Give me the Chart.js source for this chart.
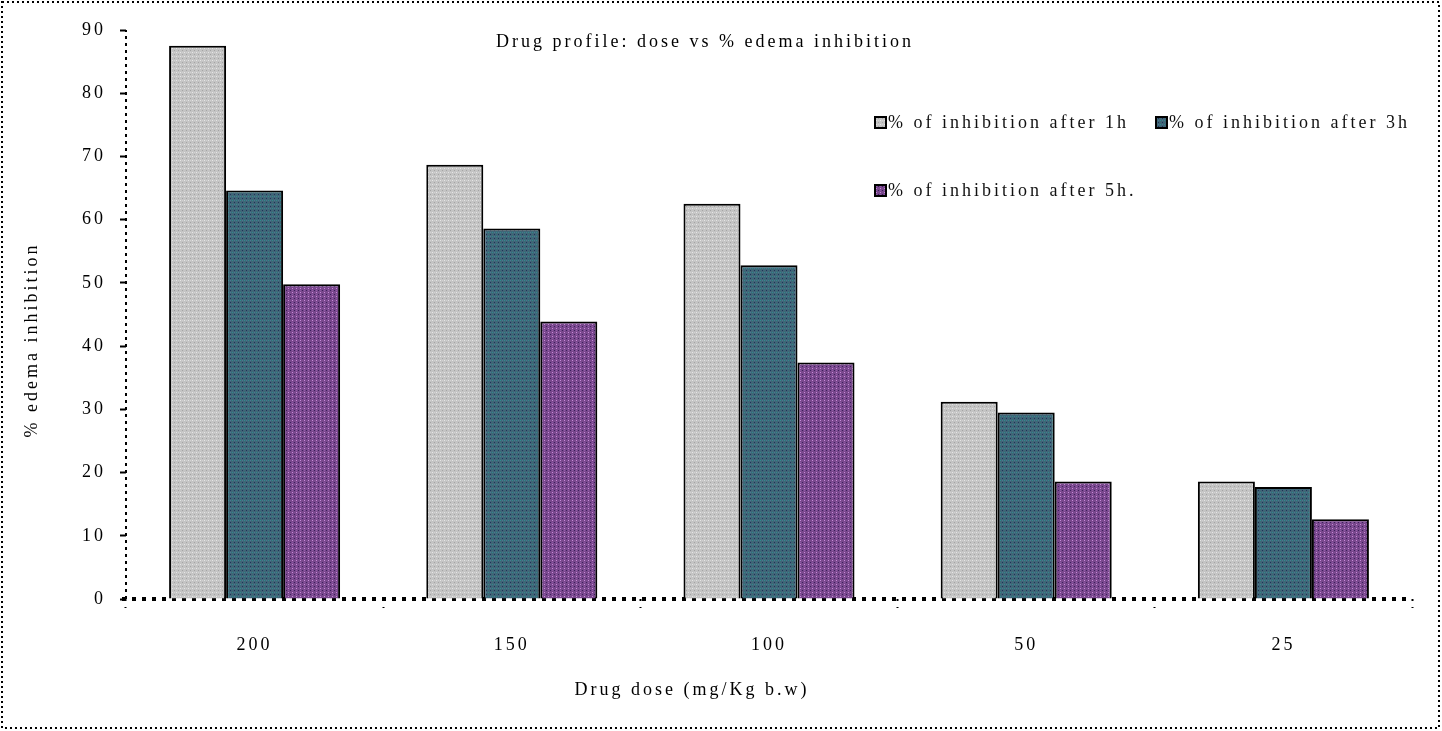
<!DOCTYPE html>
<html>
<head>
<meta charset="utf-8">
<script src="https://cdn.jsdelivr.net/npm/chart.js@4"></script>
<style>
  html, body { margin: 0; padding: 0; background: #ffffff; }
  #wrap { width: 1442px; height: 731px; position: relative; }
</style>
</head>
<body>
<div id="wrap"><canvas id="c"></canvas></div>
<script>
// Dose groups (mg/Kg body weight) and % inhibition per time point
const doses = ['200', '150', '100', '50', '25'];
const after1h = [87.5, 68.7, 62.5, 31.2, 18.6];
const after3h = [64.6, 58.6, 52.8, 29.5, 17.7];
const after5h = [49.8, 43.9, 37.4, 18.6, 12.6];
const seriesLabels = ['% of inhibition after 1h', '% of inhibition after 3h', '% of inhibition after 5h.'];
const yMin = 0, yMax = 90, yStep = 10;

const chartTitle = 'Drug profile: dose vs % edema inhibition';
const xTitle = 'Drug dose (mg/Kg b.w)';
const yTitle = '% edema inhibition';

const FONT = '"Liberation Serif", "Times New Roman", serif';
const SPACING = '3px';

const canvas = document.getElementById('c');
const ctx0 = canvas.getContext('2d');

// small dotted fill textures for the bars
function texture(base, marks) {
  const t = document.createElement('canvas');
  t.width = 4; t.height = 4;
  const g = t.getContext('2d');
  g.fillStyle = base; g.fillRect(0, 0, 4, 4);
  marks.forEach(([x, y, col]) => { g.fillStyle = col; g.fillRect(x, y, 1, 1); });
  return ctx0.createPattern(t, 'repeat');
}
const greyFill = texture('#c4c4c4', [[0, 0, '#e6e6e6'], [2, 2, '#a4a4a4'], [2, 0, '#d2d2d2']]);
const tealFill = texture('#3f6677', [[0, 0, '#2e8c8c'], [2, 2, '#223058'], [2, 0, '#4b7890']]);
const purpleFill = texture('#79488d', [[0, 0, '#c68ad8'], [2, 2, '#3a1e5c'], [0, 2, '#8e5aa6']]);
const fills = [greyFill, tealFill, purpleFill];

const spacingPlugin = {
  id: 'spacing',
  beforeLayout(chart) { chart.ctx.letterSpacing = SPACING; },
  beforeDraw(chart) { chart.ctx.letterSpacing = SPACING; }
};

// dotted axis lines, drawn under the bars
const axisPlugin = {
  id: 'dottedAxes',
  beforeDatasetsDraw(chart) {
    const { ctx, chartArea: a } = chart;
    ctx.save();
    ctx.strokeStyle = '#000';
    ctx.lineCap = 'butt';
    ctx.lineWidth = 2;
    ctx.setLineDash([3, 4]);
    ctx.beginPath();
    ctx.moveTo(a.left, a.bottom);
    ctx.lineTo(a.left, a.top);
    ctx.stroke();
    ctx.lineWidth = 4;
    ctx.setLineDash([4, 6]);
    ctx.beginPath();
    ctx.moveTo(a.left - 4, a.bottom);
    ctx.lineTo(a.right, a.bottom);
    ctx.stroke();
    ctx.restore();
  }
};

const decorPlugin = {
  id: 'decor',
  afterDraw(chart) {
    const ctx = chart.ctx;
    ctx.save();
    ctx.letterSpacing = SPACING;
    ctx.fillStyle = '#000';
    ctx.font = '18px ' + FONT;
    ctx.textAlign = 'center';
    ctx.textBaseline = 'middle';
    ctx.fillText(chartTitle, 705, 42);
    ctx.fillText(xTitle, 692, 690);

    ctx.save();
    ctx.translate(32, 340);
    ctx.rotate(-Math.PI / 2);
    ctx.fillText(yTitle, 0, 0);
    ctx.restore();

    // legend
    const spots = [[875, 117], [1156, 117], [875, 185]];
    ctx.textAlign = 'left';
    chart.data.datasets.forEach((ds, i) => {
      const [x, y] = spots[i];
      ctx.fillStyle = ds.backgroundColor;
      ctx.fillRect(x, y, 11, 11);
      ctx.lineWidth = 2;
      ctx.strokeStyle = '#000';
      ctx.strokeRect(x, y, 11, 11);
      ctx.fillStyle = '#111';
      ctx.fillText(ds.label, x + 13, y + 6);
    });

    // dotted frame round the whole figure
    ctx.setLineDash([2, 3]);
    ctx.lineWidth = 2;
    ctx.strokeStyle = '#000';
    ctx.strokeRect(2, 2, 1437, 726);
    ctx.restore();
  }
};

new Chart(canvas, {
  type: 'bar',
  data: {
    labels: doses,
    datasets: [
      { label: seriesLabels[0], data: after1h, backgroundColor: fills[0] },
      { label: seriesLabels[1], data: after3h, backgroundColor: fills[1] },
      { label: seriesLabels[2], data: after5h, backgroundColor: fills[2] }
    ]
  },
  options: {
    responsive: true,
    maintainAspectRatio: false,
    animation: false,
    layout: { padding: { left: 0, top: 30, right: 30, bottom: 0 } },
    datasets: {
      bar: {
        borderColor: '#000',
        borderWidth: 2,
        categoryPercentage: 0.665,
        barPercentage: 1.0
      }
    },
    plugins: {
      legend: { display: false },
      title: { display: false },
      tooltip: { enabled: false }
    },
    scales: {
      x: {
        type: 'category',
        border: { display: false },
        grid: {
          display: true, drawOnChartArea: false, drawTicks: true,
          tickLength: 9, color: '#000', tickWidth: 2, tickBorderDash: [2, 6]
        },
        ticks: { color: '#000', font: { family: FONT, size: 18 }, padding: 26 },
        afterFit(s) { s.height = 132; }
      },
      y: {
        min: yMin, max: yMax,
        border: { display: false },
        grid: { display: true, drawOnChartArea: false, tickLength: 6, color: '#000', tickWidth: 2 },
        ticks: { stepSize: yStep, color: '#000', font: { family: FONT, size: 18 }, padding: 14 },
        afterFit(s) { s.width = 126; }
      }
    }
  },
  plugins: [spacingPlugin, axisPlugin, decorPlugin]
});
</script>
</body>
</html>
